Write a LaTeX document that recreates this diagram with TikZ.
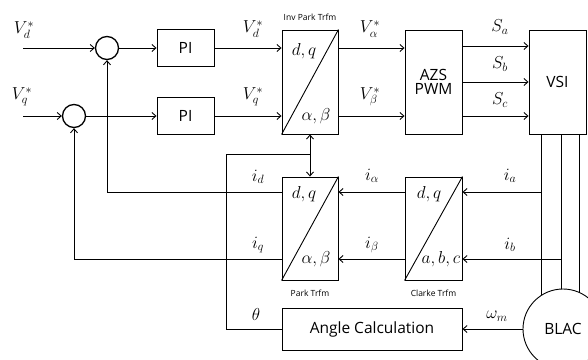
\documentclass[tikz,border=0pt]{standalone}
\usepackage{fontspec}
\setsansfont{Open Sans}
\usetikzlibrary{arrows.meta}
\begin{document}
\begin{tikzpicture}[x=1pt,y=-1pt,line width=0.9pt,
  >={Straight Barb[length=4pt,width=7pt,line width=0.9pt]},
  box/.style={draw,inner sep=0pt,font=\sffamily\fontsize{15.5}{17}\selectfont,align=center},
  sum/.style={draw,circle,minimum size=23pt,inner sep=0pt,line width=1.3pt},
  lbl/.style={font=\fontsize{17}{17}\selectfont,inner sep=0pt},
  inlbl/.style={font=\fontsize{16.5}{16.5}\selectfont,inner sep=0pt},
  captxt/.style={font=\sffamily\fontsize{8.5}{9}\selectfont,inner sep=0pt}]
\clip (0,0) rectangle (588,359);
% blocks
\node[sum] (sumd) at (107,48) {};
\node[sum] (sumq) at (74,116) {};
\node[box,minimum width=57pt,minimum height=37pt] (pid) at (185.5,48) {PI};
\node[box,minimum width=57pt,minimum height=37pt] (piq) at (185.5,116) {PI};
\node[box,minimum width=56pt,minimum height=104pt] (invpark) at (310,82) {};
\node[box,minimum width=57pt,minimum height=104pt] (azs) at (433.5,82) {AZS\\[-3pt]PWM};
\node[box,minimum width=57pt,minimum height=104pt] (vsi) at (557.5,82) {VSI};
\node[box,minimum width=56pt,minimum height=103pt] (park) at (310,228.5) {};
\node[box,minimum width=57pt,minimum height=103pt] (clarke) at (433.5,228.5) {};
\node[box,minimum width=180pt,minimum height=42pt] (angle) at (372,329) {Angle Calculation};
\node[box,circle,minimum size=80pt] (blac) at (563,329) {BLAC};
% diagonals
\draw (invpark.south west) -- (invpark.north east);
\draw (park.south west) -- (park.north east);
\draw (clarke.south west) -- (clarke.north east);
% captions
\node[captxt] (capinv) at (310,17) {Inv Park Trfm};
\node[captxt] (cappark) at (310,293) {Park Trfm};
\node[captxt] (capclarke) at (433.5,293) {Clarke Trfm};
% inside labels
\node[inlbl] (t1) at (304,51) {$d,q$};
\node[inlbl] (t2) at (316,116) {$\alpha,\beta$};
\node[inlbl] (t3) at (304,194) {$d,q$};
\node[inlbl] (t4) at (316,259) {$\alpha,\beta$};
\node[inlbl] (t5) at (429,194) {$d,q$};
\node[inlbl] (t6) at (441,259) {$a,b,c$};
% helper coordinates
\coordinate (ind) at (23,48);
\coordinate (inq) at (23,116);
\coordinate (rd) at (0,192);
\coordinate (rq) at (0,259);
\coordinate (ra) at (0,46);
\coordinate (rb) at (0,82);
\coordinate (rc) at (0,116);
\coordinate (tc) at (226,154);
% forward path
\draw[->] (ind) -- (sumd.west);
\draw[->] (inq) -- (sumq.west);
\draw[->] (sumd.east) -- (pid.west);
\draw[->] (sumq.east) -- (piq.west);
\draw[->] (pid.east) -- (pid.east -| invpark.west);
\draw[->] (piq.east) -- (piq.east -| invpark.west);
\draw[->] (invpark.east |- pid) -- (azs.west |- pid);
\draw[->] (invpark.east |- piq) -- (azs.west |- piq);
\draw[->] (azs.east |- ra) -- (vsi.west |- ra);
\draw[->] (azs.east |- rb) -- (vsi.west |- rb);
\draw[->] (azs.east |- rc) -- (vsi.west |- rc);
% VSI to motor
\draw (blac.123.4) -- (blac.123.4 |- vsi.south);
\draw (blac.92.9) -- (blac.92.9 |- vsi.south);
\draw (blac.66.4) -- (blac.66.4 |- vsi.south);
% current feedback
\draw[->] (blac.123.4 |- rd) -- (clarke.east |- rd);
\draw[->] (blac.92.9 |- rq) -- (clarke.east |- rq);
\draw[->] (clarke.west |- rd) -- (park.east |- rd);
\draw[->] (clarke.west |- rq) -- (park.east |- rq);
\draw[->] (park.west |- rd) -| (sumd.south);
\draw[->] (park.west |- rq) -| (sumq.south);
% angle
\draw[->] (blac.west) -- (blac.west -| angle.east);
\draw (angle.west) -| (tc) -- (tc -| invpark.south);
\draw[<->] (invpark.south) -- (park.north);
% labels
\node[lbl] (l1) at (24,30) {$V_d^*$};
\node[lbl] (l2) at (22,97) {$V_q^*$};
\node[lbl] (l3) at (253,29) {$V_d^*$};
\node[lbl] (l4) at (253,97) {$V_q^*$};
\node[lbl] (l5) at (370,29) {$V_\alpha^*$};
\node[lbl] (l6) at (370,97) {$V_\beta^*$};
\node[lbl] (l7) at (500,27) {$S_a$};
\node[lbl] (l8) at (500,64) {$S_b$};
\node[lbl] (l9) at (500,100) {$S_c$};
\node[lbl] (l10) at (258,177) {$i_d$};
\node[lbl] (l11) at (258,245) {$i_q$};
\node[lbl] (l12) at (256,314) {$\theta$};
\node[lbl] (l13) at (372,176) {$i_\alpha$};
\node[lbl] (l14) at (372,245) {$i_\beta$};
\node[lbl] (l15) at (510,176) {$i_a$};
\node[lbl] (l16) at (510,245) {$i_b$};
\node[lbl] (l17) at (497,316) {$\omega_m$};
\end{tikzpicture}
\end{document}
